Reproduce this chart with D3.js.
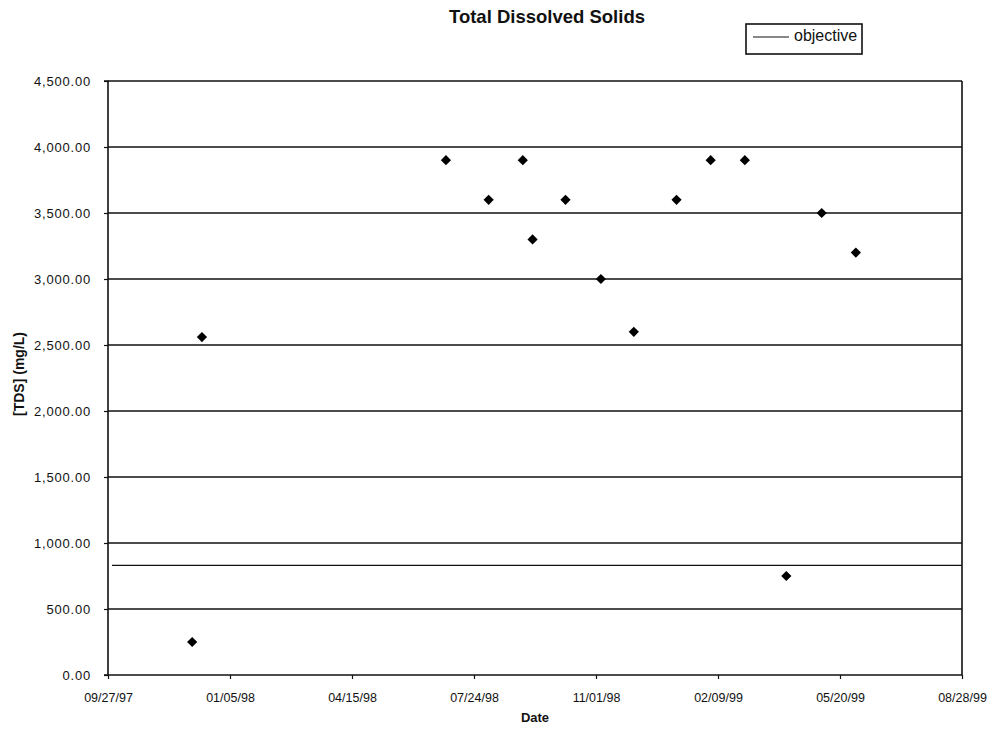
<!DOCTYPE html>
<html><head><meta charset="utf-8">
<script src="https://cdn.jsdelivr.net/npm/d3@7"></script>
<style>
html,body{margin:0;padding:0;background:#fff;}
svg{display:block;font-family:"Liberation Sans",Arial,sans-serif;}
</style></head>
<body>
<svg id="chart" width="994" height="733"></svg>
<script>
// ---- data ----
const sampleDates = ["12/05/97","12/13/97","07/01/98","08/05/98","09/02/98","09/10/98","10/07/98","11/05/98","12/02/98","01/06/99","02/03/99","03/03/99","04/06/99","05/05/99","06/02/99"];
const tdsValues = [250, 2560, 3900, 3600, 3900, 3300, 3600, 3000, 2600, 3600, 3900, 3900, 750, 3500, 3200];
const xTickLabels = ["09/27/97","01/05/98","04/15/98","07/24/98","11/01/98","02/09/99","05/20/99","08/28/99"];
const yTickValues = [0, 500, 1000, 1500, 2000, 2500, 3000, 3500, 4000, 4500];
const objectiveValue = [830];
const titleText = "Total Dissolved Solids";
const xTitle = "Date";
const yTitle = "[TDS] (mg/L)";
const legendLabel = "objective";

// ---- layout ----
const W = 994, H = 733;
const m = {left:108, right:32, top:81, bottom:58};
const svg = d3.select("#chart");
const parse = d3.timeParse("%m/%d/%y");
const fmt = d3.timeFormat("%m/%d/%y");
const xTicks = xTickLabels.map(parse);

const x = d3.scaleTime().domain([xTicks[0], xTicks[xTicks.length-1]]).range([m.left, W - m.right]);
const y = d3.scaleLinear().domain([0, 4500]).range([H - m.bottom, m.top]);

// gridlines
svg.append("g").selectAll("line").data(yTickValues.filter(v => v > 0)).join("line")
  .attr("x1", m.left).attr("x2", W - m.right)
  .attr("y1", d => y(d)).attr("y2", d => y(d))
  .attr("stroke", "#111").attr("stroke-width", 1.4);

// right border
svg.append("line").attr("x1", W - m.right).attr("x2", W - m.right)
  .attr("y1", y(4500)).attr("y2", y(0)).attr("stroke", "#111").attr("stroke-width", 1.6);

// objective line
svg.append("g").selectAll("line").data(objectiveValue).join("line")
  .attr("x1", m.left + 4).attr("x2", W - m.right)
  .attr("y1", d => y(d)).attr("y2", d => y(d))
  .attr("stroke", "#111").attr("stroke-width", 1.3);

// y axis
const yAxis = svg.append("g").attr("transform", `translate(${m.left},0)`)
  .call(d3.axisLeft(y).tickValues(yTickValues).tickSize(4).tickPadding(13).tickFormat(d3.format(",.2f")));
yAxis.select(".domain").attr("stroke", "#111").attr("stroke-width", 1.6).attr("d", `M-4,${y(4500)}H0V${y(0)}H-4`);
yAxis.selectAll(".tick line").attr("stroke", "#111").attr("stroke-width", 1.2);
yAxis.selectAll("text").attr("font-size", 13).attr("letter-spacing", "0.8px")
  .attr("font-family", "'Liberation Sans',Arial,sans-serif").attr("fill", "#111");

// x axis
const xAxis = svg.append("g").attr("transform", `translate(0,${y(0)})`)
  .call(d3.axisBottom(x).tickValues(xTicks).tickSize(4).tickPadding(14).tickFormat(fmt));
xAxis.select(".domain").attr("stroke", "#111").attr("stroke-width", 1.6).attr("d", `M${m.left},0H${W - m.right}`);
xAxis.selectAll(".tick line").attr("stroke", "#111").attr("stroke-width", 1.2);
xAxis.selectAll("text").attr("font-size", 12.5)
  .attr("font-family", "'Liberation Sans',Arial,sans-serif").attr("fill", "#111");

// points
svg.append("g").selectAll("path").data(sampleDates.map((d, i) => ({date: parse(d), v: tdsValues[i]}))).join("path")
  .attr("d", d3.symbol(d3.symbolSquare, 52))
  .attr("transform", d => `translate(${x(d.date)},${y(d.v)}) rotate(45)`)
  .attr("fill", "#000");

// titles
svg.append("text").attr("x", 547).attr("y", 23).attr("text-anchor", "middle")
  .attr("font-size", 18.5).attr("font-weight", "bold").attr("fill", "#111").text(titleText);
svg.append("text").attr("x", (m.left + W - m.right) / 2).attr("y", 722).attr("text-anchor", "middle")
  .attr("font-size", 13).attr("font-weight", "bold").attr("fill", "#111").text(xTitle);
svg.append("text").attr("transform", `translate(24,${(y(0) + y(4500)) / 2 - 4}) rotate(-90)`).attr("text-anchor", "middle")
  .attr("font-size", 14).attr("font-weight", "bold").attr("fill", "#111").text(yTitle);

// legend
const lg = svg.append("g");
lg.append("rect").attr("x", 746).attr("y", 24).attr("width", 116).attr("height", 30)
  .attr("fill", "#fff").attr("stroke", "#111").attr("stroke-width", 1.6);
lg.append("line").attr("x1", 753).attr("x2", 789).attr("y1", 37).attr("y2", 37)
  .attr("stroke", "#111").attr("stroke-width", 1.2);
lg.append("text").attr("x", 794).attr("y", 41).attr("font-size", 16).attr("fill", "#111").text(legendLabel);
</script>
</body></html>
